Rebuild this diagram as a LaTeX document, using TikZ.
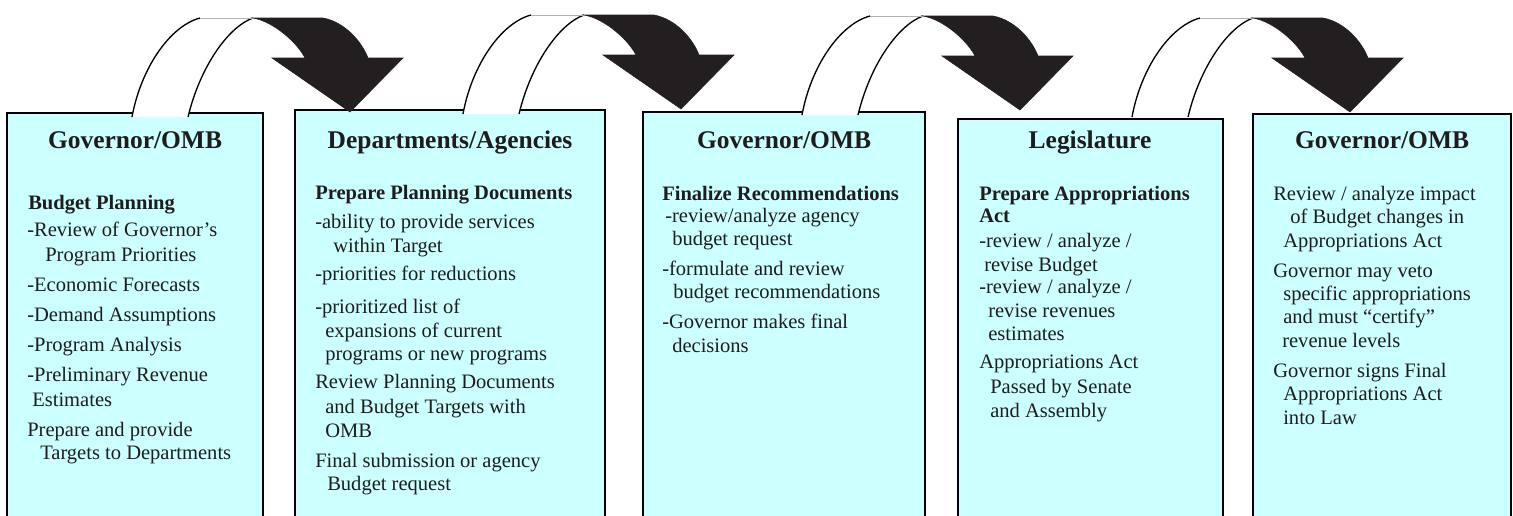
\documentclass[tikz,border=0pt]{standalone}
\usepackage{fontspec}
\setmainfont{Liberation Serif}
\definecolor{boxfill}{RGB}{204,255,255}
\definecolor{txt}{RGB}{30,28,28}
\definecolor{dark}{RGB}{35,31,32}
\begin{document}
\begin{tikzpicture}[x=0.75pt,y=-0.75pt,
  box/.style={draw=black,line width=1.6pt,fill=boxfill},
  ttl/.style={anchor=base,font=\fontsize{19.1}{22}\selectfont\bfseries,text=txt,inner sep=0pt},
  ln/.style={anchor=base west,font=\fontsize{15.4}{18}\selectfont,text=txt,inner sep=0pt},
  hd/.style={anchor=base west,font=\fontsize{15.4}{18}\selectfont\bfseries,text=txt,inner sep=0pt},
  shaftedge/.style={draw=black,line width=1pt},
  arrowdark/.style={fill=dark,draw=dark,line width=0.4pt}]
\useasboundingbox (0,0) rectangle (1513,515);
\fill[white] (0,0) rectangle (1513,515);

% boxes
\draw[box] (7,113) rectangle (263,540);
\draw[box] (295,110) rectangle (605,540);
\draw[box] (643,112) rectangle (925,540);
\draw[box] (958,119) rectangle (1223,540);
\draw[box] (1253,114) rectangle (1511,540);

% curved block arrows
\foreach \dx/\dy in {0/0, 331/-3, 670/-2, 1000/0}{
\begin{scope}[shift={(\dx,\dy)}]
  \fill[white] (132,117) .. controls (141,68) and (170,26) .. (200,18) -- (253,18)
     .. controls (228,27) and (200,67) .. (188,117) -- cycle;
  \draw[shaftedge] (132,117) .. controls (141,68) and (170,26) .. (200,18);
  \draw[shaftedge] (188,117) .. controls (200,67) and (228,27) .. (253,18);
  \draw[gray!60,line width=0.4pt] (200,18) -- (253,18);
  \filldraw[arrowdark] (253,18) -- (323,18) .. controls (345,22) and (362,42) .. (368,58)
     -- (403,58) -- (350,112) -- (272,58) -- (305,58)
     .. controls (298,44) and (275,22) .. (253,18) -- cycle;
\end{scope}}

% titles
\node[ttl] (t1) at (135,148) {Governor/OMB};
\node[ttl] (t2) at (450,148) {Departments/Agencies};
\node[ttl] (t3) at (784,148) {Governor/OMB};
\node[ttl] (t4) at (1090,148) {Legislature};
\node[ttl] (t5) at (1382,148) {Governor/OMB};

% box 1
\node[hd] (a1) at (28,209) {Budget Planning};
\node[ln] (a2) at (27,236) {-Review of Governor’s};
\node[ln] (a3) at (45,261) {Program Priorities};
\node[ln] (a4) at (27,291) {-Economic Forecasts};
\node[ln] (a5) at (27,321) {-Demand Assumptions};
\node[ln] (a6) at (27,351) {-Program Analysis};
\node[ln] (a7) at (27,381) {-Preliminary Revenue};
\node[ln] (a8) at (32,406) {Estimates};
\node[ln] (a9) at (27,436) {Prepare and provide};
\node[ln] (a10) at (40,459) {Targets to Departments};

% box 2
\node[hd] (b1) at (315,199) {Prepare Planning Documents};
\node[ln] (b2) at (315,228) {-ability to provide services};
\node[ln] (b3) at (333,252) {within Target};
\node[ln] (b4) at (315,280) {-priorities for reductions};
\node[ln] (b5) at (315,313) {-prioritized list of};
\node[ln] (b6) at (325,337) {expansions of current};
\node[ln] (b7) at (325,360) {programs or new programs};
\node[ln] (b8) at (315,388) {Review Planning Documents};
\node[ln] (b9) at (325,413) {and Budget Targets with};
\node[ln] (b10) at (325,437) {OMB};
\node[ln] (b11) at (315,467) {Final submission or agency};
\node[ln] (b12) at (327,490) {Budget request};

% box 3
\node[hd] (c1) at (662,200) {Finalize Recommendations};
\node[ln] (c2) at (665,222) {-review/analyze agency};
\node[ln] (c3) at (672,245) {budget request};
\node[ln] (c4) at (662,275) {-formulate and review};
\node[ln] (c5) at (673,298) {budget recommendations};
\node[ln] (c6) at (662,328) {-Governor makes final};
\node[ln] (c7) at (672,352) {decisions};

% box 4
\node[hd] (d1) at (979,200) {Prepare Appropriations};
\node[hd] (d2) at (979,222) {Act};
\node[ln] (d3) at (979,247) {-review / analyze /};
\node[ln] (d4) at (984,271) {revise Budget};
\node[ln] (d5) at (979,293) {-review / analyze /};
\node[ln] (d6) at (988,317) {revise revenues};
\node[ln] (d7) at (988,340) {estimates};
\node[ln] (d8) at (979,368) {Appropriations Act};
\node[ln] (d9) at (990,393) {Passed by Senate};
\node[ln] (d10) at (990,417) {and Assembly};

% box 5
\node[ln] (e1) at (1273,200) {Review / analyze impact};
\node[ln] (e2) at (1290,223) {of Budget changes in};
\node[ln] (e3) at (1283,247) {Appropriations Act};
\node[ln] (e4) at (1273,277) {Governor may veto};
\node[ln] (e5) at (1283,300) {specific appropriations};
\node[ln] (e6) at (1283,323) {and must “certify”};
\node[ln] (e7) at (1282,347) {revenue levels};
\node[ln] (e8) at (1273,377) {Governor signs Final};
\node[ln] (e9) at (1283,400) {Appropriations Act};
\node[ln] (e10) at (1283,424) {into Law};
\end{tikzpicture}
\end{document}
